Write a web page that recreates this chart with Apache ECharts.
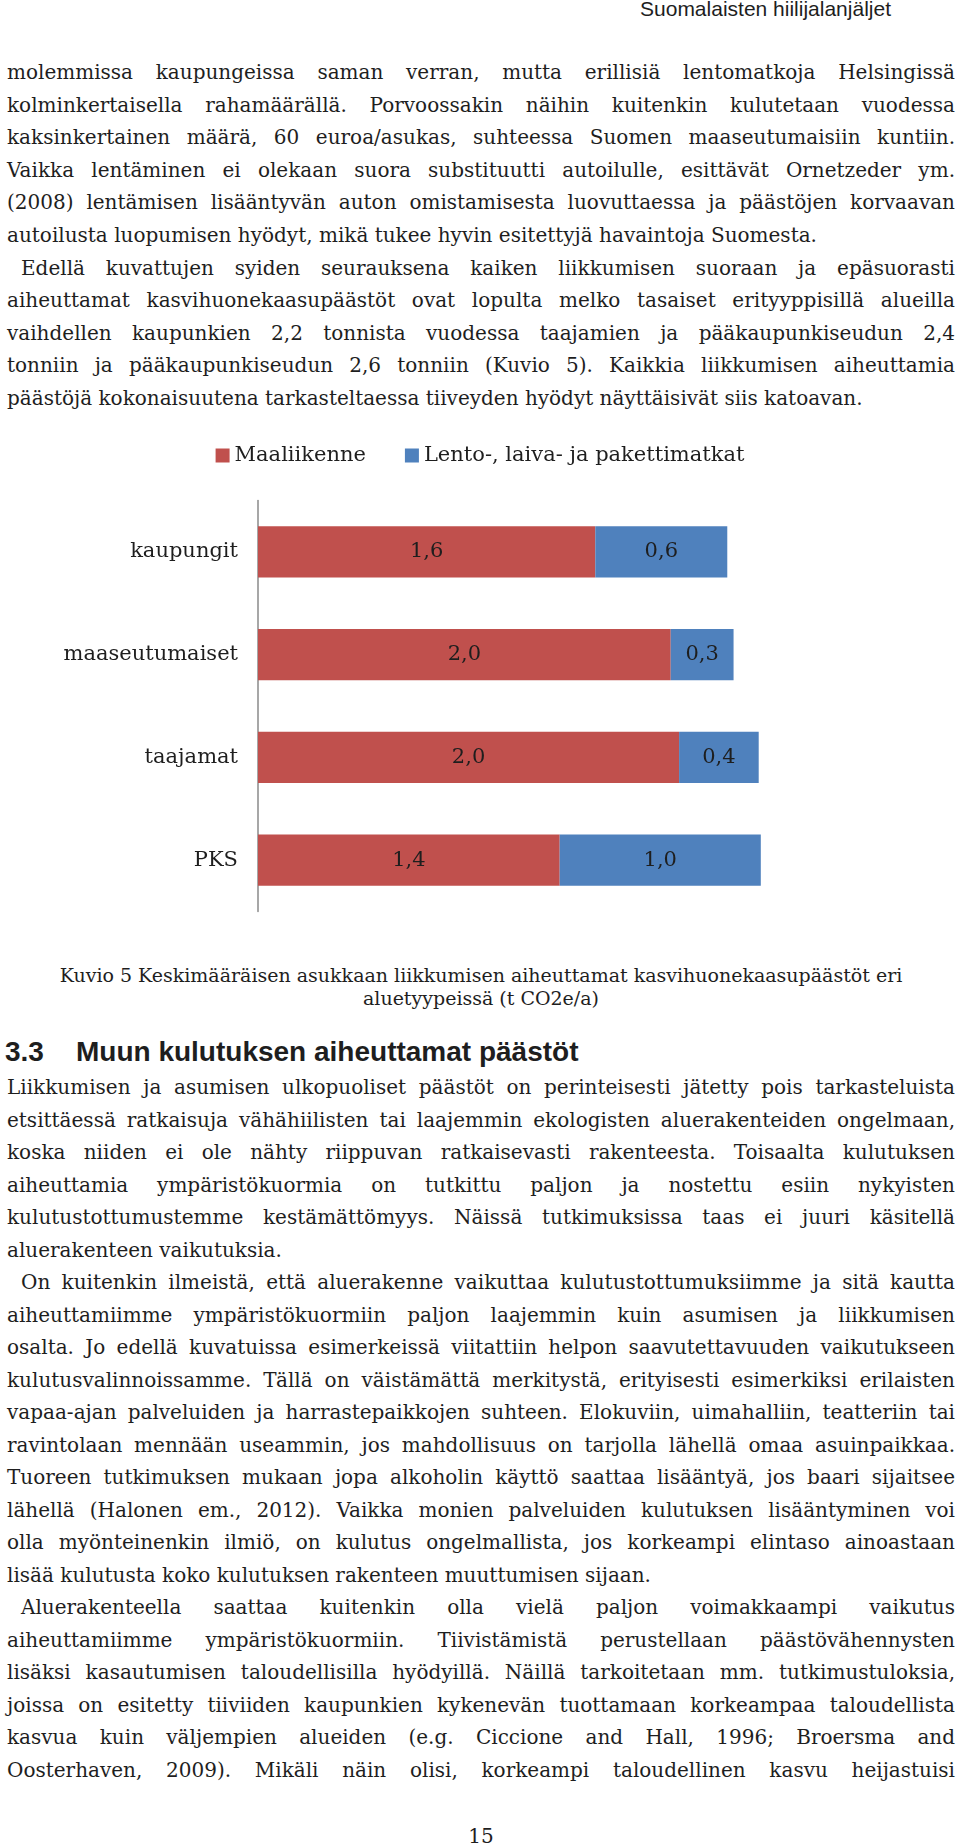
<!DOCTYPE html>
<html><head><meta charset="utf-8">
<script src="https://cdn.jsdelivr.net/npm/echarts@6/dist/echarts.min.js"></script>
<style>
html,body{margin:0;padding:0;background:#fff;}
body{width:960px;height:1848px;position:relative;overflow:hidden;font-family:'DejaVu Serif',serif;color:#1e1e1e;}
.ln{position:absolute;white-space:nowrap;font-size:20px;line-height:32px;height:32px;}
.cap{position:absolute;left:7px;width:948px;text-align:center;white-space:nowrap;font-size:19px;line-height:23px;}
#hdr{position:absolute;right:69px;top:-3px;font-family:'Liberation Sans',Arial,sans-serif;font-size:21px;line-height:24px;white-space:nowrap;}
.h2{position:absolute;top:1036px;font-family:'Liberation Sans',Arial,sans-serif;font-weight:bold;font-size:28px;line-height:32px;white-space:nowrap;}
#pg{position:absolute;left:7px;width:948px;text-align:center;top:1820px;font-size:20px;line-height:32px;}
#chart{position:absolute;left:0;top:420px;width:960px;height:520px;}
</style>
</head><body>
<div id="hdr">Suomalaisten hiilijalanjäljet</div>
<div id="chart"></div>
<div class="cap" style="top:964px">Kuvio 5 Keskimääräisen asukkaan liikkumisen aiheuttamat kasvihuonekaasupäästöt eri</div>
<div class="cap" style="top:987px">aluetyypeissä (t CO2e/a)</div>
<div class="h2" style="left:5px">3.3</div>
<div class="h2" style="left:76px">Muun kulutuksen aiheuttamat päästöt</div>
<div id="pg">15</div>
<script>
// ---- chart data ----
const categories = ['kaupungit', 'maaseutumaiset', 'taajamat', 'PKS'];
const seriesNames = ['Maaliikenne', 'Lento-, laiva- ja pakettimatkat'];
const maaliikenne = [1.61, 1.97, 2.01, 1.44];
const lentoLaivaPaketti = [0.63, 0.30, 0.38, 0.96];
const seriesColors = ['#C0504D', '#4F81BD'];

// ---- page text ----
const topLines = [
  {t:'molemmissa kaupungeissa saman verran, mutta erillisiä lentomatkoja Helsingissä', j:1},
  {t:'kolminkertaisella rahamäärällä. Porvoossakin näihin kuitenkin kulutetaan vuodessa', j:1},
  {t:'kaksinkertainen määrä, 60 euroa/asukas, suhteessa Suomen maaseutumaisiin kuntiin.', j:1},
  {t:'Vaikka lentäminen ei olekaan suora substituutti autoilulle, esittävät Ornetzeder ym.', j:1},
  {t:'(2008) lentämisen lisääntyvän auton omistamisesta luovuttaessa ja päästöjen korvaavan', j:1},
  {t:'autoilusta luopumisen hyödyt, mikä tukee hyvin esitettyjä havaintoja Suomesta.', j:0},
  {t:'Edellä kuvattujen syiden seurauksena kaiken liikkumisen suoraan ja epäsuorasti', j:1, ind:1},
  {t:'aiheuttamat kasvihuonekaasupäästöt ovat lopulta melko tasaiset erityyppisillä alueilla', j:1},
  {t:'vaihdellen kaupunkien 2,2 tonnista vuodessa taajamien ja pääkaupunkiseudun 2,4', j:1},
  {t:'tonniin ja pääkaupunkiseudun 2,6 tonniin (Kuvio 5). Kaikkia liikkumisen aiheuttamia', j:1},
  {t:'päästöjä kokonaisuutena tarkasteltaessa tiiveyden hyödyt näyttäisivät siis katoavan.', j:0}
];
const bottomLines = [
  {t:'Liikkumisen ja asumisen ulkopuoliset päästöt on perinteisesti jätetty pois tarkasteluista', j:1},
  {t:'etsittäessä ratkaisuja vähähiilisten tai laajemmin ekologisten aluerakenteiden ongelmaan,', j:1},
  {t:'koska niiden ei ole nähty riippuvan ratkaisevasti rakenteesta. Toisaalta kulutuksen', j:1},
  {t:'aiheuttamia ympäristökuormia on tutkittu paljon ja nostettu esiin nykyisten', j:1},
  {t:'kulutustottumustemme kestämättömyys. Näissä tutkimuksissa taas ei juuri käsitellä', j:1},
  {t:'aluerakenteen vaikutuksia.', j:0},
  {t:'On kuitenkin ilmeistä, että aluerakenne vaikuttaa kulutustottumuksiimme ja sitä kautta', j:1, ind:1},
  {t:'aiheuttamiimme ympäristökuormiin paljon laajemmin kuin asumisen ja liikkumisen', j:1},
  {t:'osalta. Jo edellä kuvatuissa esimerkeissä viitattiin helpon saavutettavuuden vaikutukseen', j:1},
  {t:'kulutusvalinnoissamme. Tällä on väistämättä merkitystä, erityisesti esimerkiksi erilaisten', j:1},
  {t:'vapaa-ajan palveluiden ja harrastepaikkojen suhteen. Elokuviin, uimahalliin, teatteriin tai', j:1},
  {t:'ravintolaan mennään useammin, jos mahdollisuus on tarjolla lähellä omaa asuinpaikkaa.', j:1},
  {t:'Tuoreen tutkimuksen mukaan jopa alkoholin käyttö saattaa lisääntyä, jos baari sijaitsee', j:1},
  {t:'lähellä (Halonen em., 2012). Vaikka monien palveluiden kulutuksen lisääntyminen voi', j:1},
  {t:'olla myönteinenkin ilmiö, on kulutus ongelmallista, jos korkeampi elintaso ainoastaan', j:1},
  {t:'lisää kulutusta koko kulutuksen rakenteen muuttumisen sijaan.', j:0},
  {t:'Aluerakenteella saattaa kuitenkin olla vielä paljon voimakkaampi vaikutus', j:1, ind:1},
  {t:'aiheuttamiimme ympäristökuormiin. Tiivistämistä perustellaan päästövähennysten', j:1},
  {t:'lisäksi kasautumisen taloudellisilla hyödyillä. Näillä tarkoitetaan mm. tutkimustuloksia,', j:1},
  {t:'joissa on esitetty tiiviiden kaupunkien kykenevän tuottamaan korkeampaa taloudellista', j:1},
  {t:'kasvua kuin väljempien alueiden (e.g. Ciccione and Hall, 1996; Broersma and', j:1},
  {t:'Oosterhaven, 2009). Mikäli näin olisi, korkeampi taloudellinen kasvu heijastuisi', j:1}
];

function fitLine(span, target, justify) {
  const text = span.textContent;
  let w = span.getBoundingClientRect().width;
  if (w > target) {
    span.style.letterSpacing = ((target - w) / text.length) + 'px';
    w = span.getBoundingClientRect().width;
  }
  const gaps = (text.match(/ /g) || []).length;
  if (justify && gaps > 0) {
    span.style.wordSpacing = ((target - w) / gaps) + 'px';
  }
}
function placeLines(lines, firstBaseline, spacing) {
  lines.forEach((l, i) => {
    const d = document.createElement('div');
    d.className = 'ln';
    const indent = l.ind ? 14 : 0;
    d.style.left = (7 + indent) + 'px';
    d.style.top = (firstBaseline + i * spacing - 23) + 'px';
    const s = document.createElement('span');
    s.textContent = l.t;
    d.appendChild(s);
    document.body.appendChild(d);
    fitLine(s, 948 - indent, !!l.j);
  });
}
placeLines(topLines, 79, 32.6);
placeLines(bottomLines, 1094, 32.5);

// ---- chart ----
const fmt = p => p.value.toFixed(1).replace('.', ',');
const chart = echarts.init(document.getElementById('chart'), null, {renderer: 'canvas'});
chart.setOption({
  animation: false,
  textStyle: {fontFamily: 'DejaVu Serif'},
  legend: {
    top: 20, left: 'center', icon: 'rect', itemWidth: 14, itemHeight: 14, itemGap: 39,
    data: seriesNames,
    textStyle: {fontSize: 21, color: '#1e1e1e', fontFamily: 'DejaVu Serif'}
  },
  grid: {left: 258, top: 80.5, width: 628.5, height: 411, containLabel: false},
  xAxis: {type: 'value', min: 0, max: 3, show: false},
  yAxis: {
    type: 'category', data: categories, inverse: true,
    axisTick: {show: false},
    axisLine: {lineStyle: {color: '#8a8a8a', width: 1.5}},
    axisLabel: {margin: 20, fontSize: 21, color: '#1e1e1e', fontFamily: 'DejaVu Serif'}
  },
  series: [
    {name: seriesNames[0], type: 'bar', stack: 'total', data: maaliikenne, barWidth: '50%',
     itemStyle: {color: seriesColors[0]},
     label: {show: true, position: 'inside', formatter: fmt, fontSize: 21, color: '#1e1e1e', fontFamily: 'DejaVu Serif'}},
    {name: seriesNames[1], type: 'bar', stack: 'total', data: lentoLaivaPaketti, barWidth: '50%',
     itemStyle: {color: seriesColors[1]},
     label: {show: true, position: 'inside', formatter: fmt, fontSize: 21, color: '#1e1e1e', fontFamily: 'DejaVu Serif'}}
  ]
});
</script>
</body></html>
